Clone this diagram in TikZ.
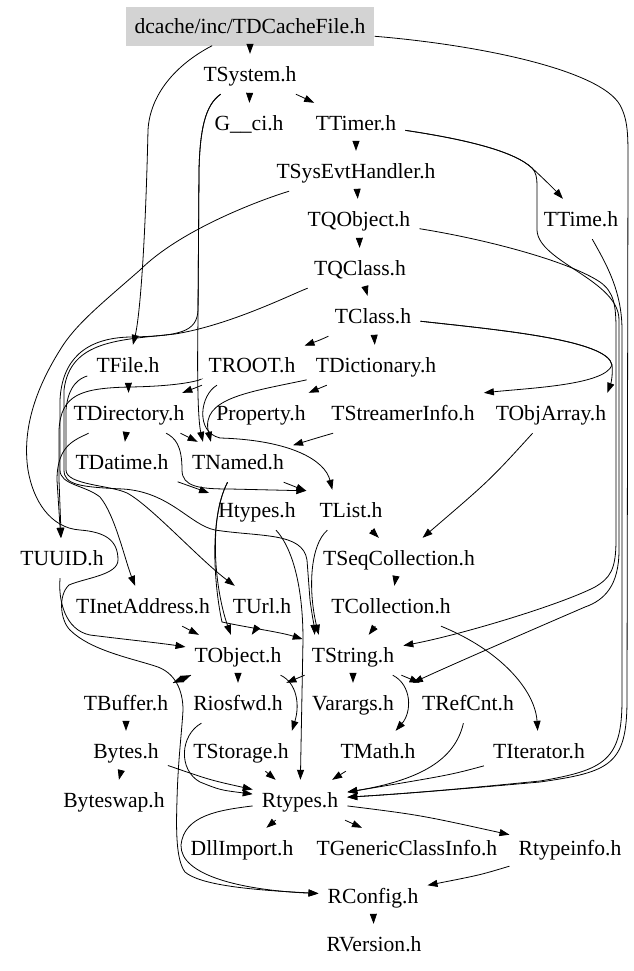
\documentclass[tikz,border=0pt]{standalone}
\usepackage{fontspec}
\setmainfont{Liberation Serif}
\usetikzlibrary{arrows.meta,calc}
\definecolor{boxgray}{RGB}{211,211,211}
\newcommand\nfont{\fontsize{21.6bp}{24bp}\selectfont}
\begin{document}
\begin{tikzpicture}[x=1bp,y=-1bp,
  nd/.style={font=\nfont, inner xsep=9bp, inner ysep=0pt, minimum height=40bp, text height=20bp, text depth=4.6bp},
  e/.style={-{Triangle[length=10bp,width=7bp]}, line width=0.8bp, black}]
\useasboundingbox (0,0) rectangle (634,971);
% nodes
\node[nd, fill=boxgray, minimum height=39bp] (dc) at (250,26) {dcache/inc/TDCacheFile.h};
\node[nd] (sys) at (250,74) {TSystem.h};
\node[nd] (gci) at (249,123) {G\_\_ci.h};
\node[nd] (timer) at (356,123) {TTimer.h};
\node[nd] (seh) at (356,171) {TSysEvtHandler.h};
\node[nd] (qobj) at (359,219) {TQObject.h};
\node[nd] (ttime) at (581,219) {TTime.h};
\node[nd] (qclass) at (360,268) {TQClass.h};
\node[nd] (tclass) at (373,316) {TClass.h};
\node[nd] (tfile) at (128,365) {TFile.h};
\node[nd] (troot) at (252,365) {TROOT.h};
\node[nd] (dict) at (376,365) {TDictionary.h};
\node[nd] (tdir) at (129,413) {TDirectory.h};
\node[nd] (prop) at (261,413) {Property.h};
\node[nd] (sinfo) at (403,413) {TStreamerInfo.h};
\node[nd] (objarr) at (551,413) {TObjArray.h};
\node[nd] (datime) at (122,462) {TDatime.h};
\node[nd] (named) at (238,462) {TNamed.h};
\node[nd] (htypes) at (257,510) {Htypes.h};
\node[nd] (tlist) at (351,510) {TList.h};
\node[nd] (uuid) at (62,558) {TUUID.h};
\node[nd] (seqcoll) at (399,558) {TSeqCollection.h};
\node[nd] (inet) at (143,606) {TInetAddress.h};
\node[nd] (url) at (262,606) {TUrl.h};
\node[nd] (coll) at (391,606) {TCollection.h};
\node[nd] (tobj) at (238,655) {TObject.h};
\node[nd] (tstr) at (353,655) {TString.h};
\node[nd] (tbuf) at (126,703) {TBuffer.h};
\node[nd] (rios) at (238,703) {Riosfwd.h};
\node[nd] (varargs) at (353,703) {Varargs.h};
\node[nd] (refcnt) at (468,703) {TRefCnt.h};
\node[nd] (bytes) at (126,751) {Bytes.h};
\node[nd] (tstor) at (241,751) {TStorage.h};
\node[nd] (tmath) at (378,751) {TMath.h};
\node[nd] (iter) at (539,751) {TIterator.h};
\node[nd] (bswap) at (114,800) {Byteswap.h};
\node[nd] (rtypes) at (300,800) {Rtypes.h};
\node[nd] (dll) at (242,848) {DllImport.h};
\node[nd] (gci2) at (407,848) {TGenericClassInfo.h};
\node[nd] (rtinfo) at (570,848) {Rtypeinfo.h};
\node[nd] (rconf) at (373,896) {RConfig.h};
\node[nd] (rver) at (374,944) {RVersion.h};
% top chain
\draw[e] (dc) -- (sys);
\draw[e] (sys) -- (gci);
\draw[e] (sys) .. controls (300,96) .. (timer);
\draw[e] (timer) -- (seh);
\draw[e] (seh) -- (qobj);
\draw[e] (qobj) -- (qclass);
\draw[e] (qclass) -- (tclass);
\draw[e] (timer) .. controls (470,140) and (515,152) .. (532,168) .. controls (545,180) and (555,190) .. (ttime);
\draw[e] (tclass) .. controls (320,340) .. (troot);
\draw[e] (tclass) -- (dict);
\draw[e] (dict) .. controls (320,388) .. (prop);
\draw[e] (dict) .. controls (250,392) and (200,398) .. ($(named.north west)+(28,0)$);
\draw[e] (troot) .. controls (195,388) .. (tdir);
\draw[e] (troot) .. controls (200,395) and (195,432) .. (220,438) .. controls (290,440) and (325,460) .. ($(tlist.north west)+(22,0)$);
\draw[e] (dc) .. controls (175,65) and (150,95) .. (148,130) .. controls (145,260) and (139,320) .. (tfile);
% TSystem verticals
\draw[e] (sys) .. controls (205,105) and (200,130) .. (199,170) -- (198,320) .. controls (197,380) and (198,420) .. ($(named.north west)+(20,0)$);
\draw[e] (sys) .. controls (205,105) and (200,130) .. (199,170) -- (198,310) .. controls (197,332) and (180,336) .. (130,337) .. controls (85,338) and (62,360) .. (60,400) -- (60,470) .. controls (60,485) and (85,485) .. (100,497) .. controls (115,515) and (125,560) .. (inet);
% left bundle
\draw[e] (qclass) .. controls (290,295) and (230,325) .. (175,334) .. controls (120,340) and (70,340) .. (64,390) -- (64,470) .. controls (64,485) and (80,487) .. (123,489) .. controls (170,492) and (190,525) .. (215,530) .. controls (260,537) and (303,532) .. (307,560) -- (310,600) .. controls (312,615) and (314,625) .. ($(tstr.north west)+(12,0)$);
\draw[e] (tfile) .. controls (80,378) and (68,385) .. (66,410) -- (66,470) .. controls (66,485) and (110,485) .. (127,493) .. controls (150,505) and (200,560) .. (url);
\draw[e] (tdir) .. controls (75,440) and (57,445) .. (57,480) -- (uuid);
\draw[e] (troot) .. controls (205,378) and (190,386) .. (130,387) .. controls (80,388) and (61,395) .. (59,430) -- (59,480) -- (uuid);
\draw[e] (seh) .. controls (260,200) and (180,230) .. (140,270) .. controls (100,305) and (75,325) .. (60,350) .. controls (35,390) and (22,430) .. (28,470) .. controls (33,500) and (50,528) .. (80,530) .. controls (105,532) and (118,540) .. (118,560) .. controls (118,575) and (85,578) .. (69,585) .. controls (58,595) and (60,620) .. (70,630) .. controls (90,650) and (130,658) .. (155,666) .. controls (175,672) and (183,690) .. (183,710) .. controls (182,730) and (178,760) .. (177,800) .. controls (176,830) and (176,860) .. (185,872) .. controls (200,885) and (250,890) .. (rconf);
% middle
\draw[e] (tfile) -- (tdir);
\draw[e] (tdir) -- (datime);
\draw[e] (tdir) .. controls (180,433) .. (named);
\draw[e] (tdir) .. controls (175,438) and (182,445) .. (182,470) .. controls (182,487) and (200,489) .. (230,489) -- ($(tlist.north west)+(-4,1)$);
\draw[e] (named) .. controls (290,485) .. ($(tlist.north west)+(-4,1)$);
\draw[e] (datime) -- (htypes);
\draw[e] (sinfo) .. controls (320,437) .. (named);
\draw[e] (tclass) .. controls (500,330) and (608,340) .. (612,365) .. controls (613,375) and (611,383) .. ($(objarr.north east)+(-8,0)$);
\draw[e] (tclass) .. controls (500,330) and (608,340) .. (612,365) .. controls (605,385) and (530,388) .. (sinfo.north east);
\draw[e] (objarr) .. controls (490,480) .. (seqcoll);
\draw[e] (tlist) -- (seqcoll);
\draw[e] (seqcoll) -- (coll);
\draw[e] (coll) -- (tstr);
\draw[e] (coll) .. controls (500,650) and (535,690) .. (iter);
\draw[e] (tlist) .. controls (310,545) and (308,590) .. ($(tstr.north west)+(16,0)$);
\draw[e] (htypes) .. controls (290,545) and (303,580) .. (303,640) -- (rtypes);
\draw[e] (named) .. controls (208,520) and (215,590) .. (tobj);
\draw[e] (named) .. controls (208,520) and (215,590) .. (222,622) .. controls (250,628) and (280,632) .. (tstr);
\draw[e] (url) .. controls (255,630) .. (tobj);
\draw[e] (inet) -- (tobj);
\draw[e] (uuid) .. controls (58,600) and (65,630) .. (90,635) .. controls (130,640) and (160,643) .. (tobj);
% right bundle
\draw[e] (dc) .. controls (480,45) and (600,70) .. (620,105) .. controls (628,120) and (628,135) .. (628,160) -- (627,700) .. controls (627,765) and (610,772) .. (540,782) .. controls (450,790) and (400,794) .. (rtypes);
\draw[e] (ttime) .. controls (605,262) and (622,290) .. (622,330) -- (622,700) .. controls (622,760) and (605,770) .. (540,781) .. controls (450,790) and (400,794) .. (rtypes);
\draw[e] (qobj) .. controls (490,240) and (570,262) .. (600,282) .. controls (614,292) and (616,305) .. (616,330) -- (616,540) .. controls (616,570) and (610,578) .. (595,587) .. controls (560,605) and (460,635) .. (tstr);
\draw[e] (timer) .. controls (470,140) and (515,152) .. (532,168) .. controls (536,172) and (537,178) .. (537,185) -- (537,230) .. controls (538,262) and (619,280) .. (619,320) -- (619,550) .. controls (619,585) and (605,600) .. (585,607) .. controls (520,635) and (440,670) .. (refcnt.north west);
% lower part
\draw[e] (tobj) -- (tbuf);
\draw[e] (tbuf) -- (tobj);
\draw[e] (tobj) -- (rios);
\draw[e] (tobj) .. controls (297,683) and (300,705) .. ($(tstor.north east)+(-6,0)$);
\draw[e] (tstr) -- (rios);
\draw[e] (tstr) -- (varargs);
\draw[e] (tstr) -- (refcnt);
\draw[e] (tstr) .. controls (412,685) and (412,712) .. (tmath);
\draw[e] (tbuf) -- (bytes);
\draw[e] (bytes) -- (bswap);
\draw[e] (bytes) .. controls (210,780) .. (rtypes);
\draw[e] (rios) .. controls (180,735) and (178,770) .. (200,782) .. controls (220,790) .. (rtypes);
\draw[e] (tstor) -- (rtypes);
\draw[e] (tmath) -- (rtypes);
\draw[e] (refcnt) .. controls (455,760) and (420,780) .. (rtypes);
\draw[e] (iter) .. controls (450,775) .. (rtypes);
\draw[e] (rtypes) -- (dll);
\draw[e] (rtypes) -- (gci2);
\draw[e] (rtypes) .. controls (420,815) .. (rtinfo);
\draw[e] (rtinfo) .. controls (480,875) .. (rconf);
\draw[e] (rconf) -- (rver);
\draw[e] (rtypes) .. controls (220,810) and (184,815) .. (181,845) .. controls (180,875) and (240,890) .. (rconf);
\end{tikzpicture}
\end{document}
